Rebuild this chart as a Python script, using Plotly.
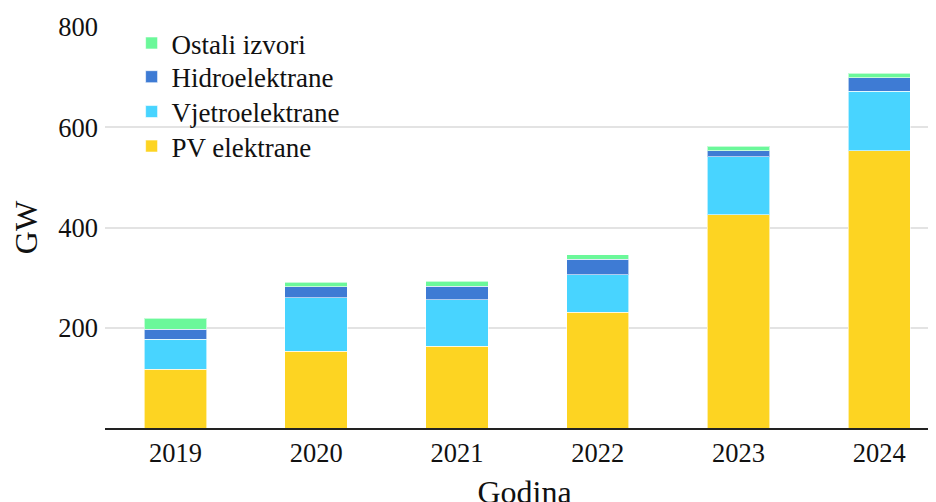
import plotly.graph_objects as go

# =====================================================
# DATA
# =====================================================

years = ["2019", "2020", "2021", "2022", "2023", "2024"]

pv = [117, 153, 163, 231, 425, 553]
wind = [60, 107, 93, 75, 116, 119]
hydro = [20, 22, 27, 31, 12, 27]
other = [22, 9, 10, 9, 9, 9]

# name, values, colour, legend id, legend y (paper)
series = [
    ("PV elektrane", pv, "#FDD422", "legend4", 0.702),
    ("Vjetroelektrane", wind, "#48D4FF", "legend3", 0.788),
    ("Hidroelektrane", hydro, "#3E7BD4", "legend2", 0.875),
    ("Ostali izvori", other, "#6BF89A", "legend", 0.959),
]

FONT = "Liberation Serif"

# =====================================================
# FIGURE
# =====================================================

fig = go.Figure()

legends = {}

for name, values, color, leg, leg_y in series:
    fig.add_trace(
        go.Bar(
            x=years,
            y=values,
            name=name,
            legend=leg,
            showlegend=True,
            marker=dict(
                color=color,
                line=dict(color="rgba(255,255,255,0.6)", width=1)
            )
        )
    )
    legends[leg] = dict(
        x=0.0317,
        y=leg_y,
        xanchor="left",
        yanchor="middle",
        bgcolor="rgba(0,0,0,0)",
        font=dict(family=FONT, size=27)
    )

# page body adds 8px, margins are compensated
fig.update_layout(
    width=936,
    height=502,
    showlegend=True,
    barmode="stack",
    bargap=0.557,
    plot_bgcolor="white",
    paper_bgcolor="white",
    font=dict(family=FONT, size=26.5, color="#111"),
    margin=dict(l=97, r=0, t=19, b=82, autoexpand=False),
    **legends,
    xaxis=dict(
        title=dict(text="Godina", standoff=26),
        automargin=True,
        range=[-0.5, 5.46],
        showline=True,
        linecolor="#222",
        linewidth=1.5,
        showgrid=False,
        ticks=""
    ),
    yaxis=dict(
        title=dict(text="GW", standoff=28),
        automargin=True,
        range=[0, 800],
        tickvals=[200, 400, 600, 800],
        showgrid=True,
        gridcolor="#e3e3e3",
        gridwidth=2,
        zeroline=False,
        ticks="",
        ticklabelstandoff=6
    )
)

fig.write_html("out.html")
